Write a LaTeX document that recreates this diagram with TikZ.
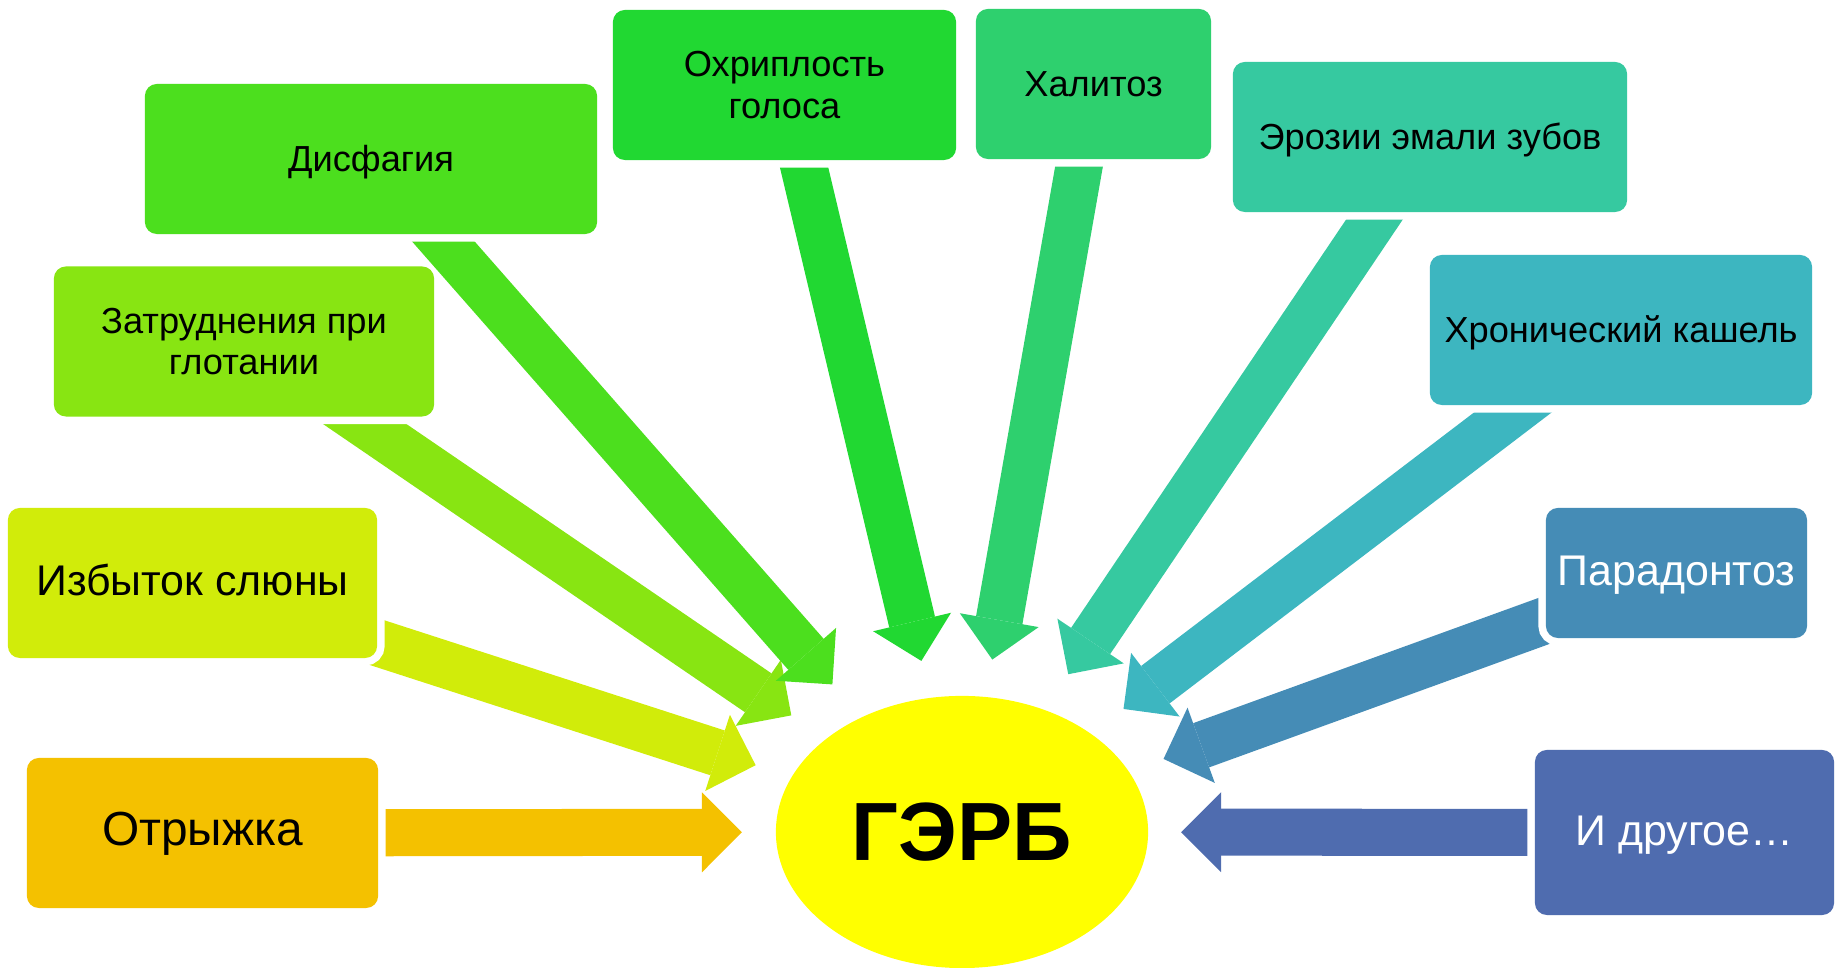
\documentclass[tikz,border=0pt]{standalone}
\usepackage{fontspec}
\setmainfont{Liberation Sans}
\usetikzlibrary{arrows.meta,backgrounds,shapes.geometric}

\pgfdeclarelayer{mid}
\pgfdeclarelayer{front}
\pgfsetlayers{background,main,mid,front}

\definecolor{cOtr}{RGB}{244,193,0}
\definecolor{cIzb}{RGB}{209,236,10}
\definecolor{cZatr}{RGB}{136,229,18}
\definecolor{cDisf}{RGB}{76,223,30}
\definecolor{cOhr}{RGB}{33,216,50}
\definecolor{cHal}{RGB}{46,208,110}
\definecolor{cEroz}{RGB}{54,201,160}
\definecolor{cHron}{RGB}{61,182,192}
\definecolor{cParad}{RGB}{69,140,182}
\definecolor{cOther}{RGB}{79,108,175}
\definecolor{cGerd}{RGB}{255,255,0}

\begin{document}
\begin{tikzpicture}[
  x=0.01cm, y=-0.01cm,
  box/.style={rectangle, rounded corners=1.2mm, inner sep=0pt, outer sep=0pt,
    minimum height=1.5cm, align=center,
    preaction={draw=white, line width=0.15cm},
    font=\fontsize{10.3}{11.9}\selectfont},
  oneline/.style={text height=0.9em, text depth=0.18em},
  bigbox/.style={box, font=\fontsize{12.2}{14}\selectfont},
  feed/.style={line width=0.47cm, shorten <=-0.3cm, shorten >=0.4cm,
    -{Triangle[length=0.4cm, width=0.8cm, line width=0pt]}}
]
  \useasboundingbox (0,0) rectangle (1835,968);

  % centre
  \node[ellipse, fill=cGerd, minimum width=3.72cm, minimum height=2.72cm,
    inner sep=0pt, outer sep=0pt, font=\bfseries\fontsize{23.5}{28}\selectfont]
    (gerd) at (962,832) {ГЭРБ};

  % symptoms
  \node[bigbox, oneline, fill=cOtr, minimum width=3.51cm,
    font=\fontsize{13.6}{16}\selectfont] (otr) at (202.5,833) {Отрыжка};
  \node[bigbox, oneline, fill=cIzb, minimum width=3.69cm] (izb) at (192.5,583) {Избыток слюны};
  \node[box, fill=cZatr, minimum width=3.80cm] (zatr) at (244,341.5) {Затруднения при\\глотании};
  \begin{pgfonlayer}{front}
    \node[box, oneline, fill=cDisf, minimum width=4.52cm] (disf) at (371,159) {Дисфагия};
  \end{pgfonlayer}
  \node[box, fill=cOhr, minimum width=3.43cm] (ohr) at (784.5,85) {Охриплость\\голоса};
  \node[box, oneline, fill=cHal, minimum width=2.35cm] (hal) at (1093.5,84) {Халитоз};
  \node[box, oneline, fill=cEroz, minimum width=3.94cm] (eroz) at (1430,137) {Эрозии эмали зубов};
  \node[box, oneline, fill=cHron, minimum width=3.82cm] (hron) at (1621,330) {Хронический кашель};
  \node[bigbox, oneline, fill=cParad, text=white, minimum width=2.61cm, minimum height=1.3cm]
    (parad) at (1676.5,573) {Парадонтоз};
  \node[bigbox, oneline, fill=cOther, text=white, minimum width=2.99cm, minimum height=1.65cm]
    (other) at (1684.5,832.5) {И другое\dots};

  % arrows
  \begin{scope}[on background layer]
    \draw[feed, cOtr, shorten >=0.34cm] (otr) -- (gerd);
    \draw[feed, cIzb, shorten >=0.38cm] (izb) -- (gerd);
    \draw[feed, cZatr, shorten >=0.42cm] (zatr) -- (gerd);
    \draw[feed, cOhr, shorten >=0.38cm] (ohr) -- (gerd);
    \draw[feed, cHal, shorten >=0.38cm] (hal) -- (gerd);
    \draw[feed, cEroz, shorten >=0.43cm] (eroz) -- (gerd);
    \draw[feed, cHron, shorten >=0.41cm] (hron) -- (gerd);
    \draw[feed, cParad, shorten >=0.37cm] (parad) -- (gerd);
    \draw[feed, cOther, shorten >=0.33cm] (other) -- (gerd);
  \end{scope}
  \begin{pgfonlayer}{mid}
    \draw[feed, cDisf, shorten >=0.44cm] (disf) -- (gerd);
  \end{pgfonlayer}
\end{tikzpicture}
\end{document}
